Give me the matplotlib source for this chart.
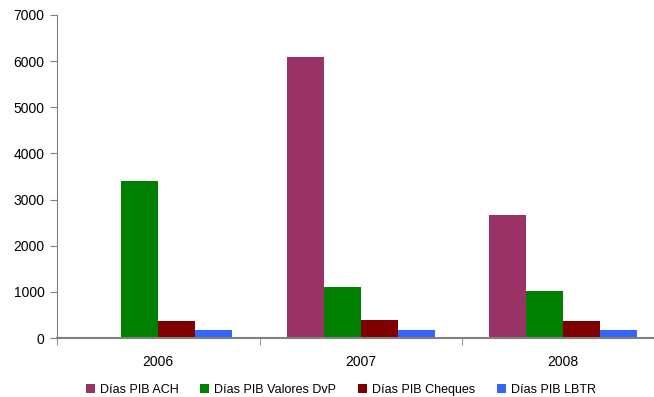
import matplotlib
matplotlib.use("Agg")
import matplotlib.pyplot as plt
import numpy as np

plt.rcParams['font.family'] = ['Liberation Sans', 'DejaVu Sans']

years = ["2006", "2007", "2008"]
series_names = ["Días PIB ACH", "Días PIB Valores DvP", "Días PIB Cheques", "Días PIB LBTR"]
ach = [0, 6090, 2665]
dvp = [3400, 1105, 1020]
cheques = [370, 390, 370]
lbtr = [175, 175, 175]
colors = ["#993366", "#008000", "#800000", "#3366FF"]

fig = plt.figure(figsize=(6.54, 3.97), dpi=100)
ax = fig.add_axes([57 / 654, 59 / 397, 607.5 / 654, 323 / 397])

x = np.arange(len(years))
width = 0.183
all_series = [ach, dvp, cheques, lbtr]
for i, (vals, name, col) in enumerate(zip(all_series, series_names, colors)):
    ax.bar(x + (i - 1.5) * width, vals, width, color=col, label=name, linewidth=0)

ax.set_xlim(-0.5, len(years) - 0.5)
ax.set_ylim(0, 7000)
ax.set_yticks(np.arange(0, 7001, 1000))

ax.set_xticks(x)
ax.set_xticklabels(years)
ax.set_xticks(np.arange(-0.5, len(years)), minor=True)
ax.tick_params(axis='x', which='major', length=0, pad=12, labelsize=10)
ax.tick_params(axis='x', which='minor', length=5, direction='out', color='#808080')
ax.tick_params(axis='y', length=5, direction='out', color='#808080', pad=4, labelsize=10)

for s in ['top', 'right']:
    ax.spines[s].set_visible(False)
ax.spines['left'].set_color('#808080')
ax.spines['bottom'].set_color('#808080')
ax.spines['bottom'].set_linewidth(1.5)

fig.legend(loc='center', bbox_to_anchor=(341 / 654, 1 - 390 / 397), bbox_transform=fig.transFigure,
           ncol=4, frameon=False, fontsize=9, handlelength=0.72, handleheight=0.72,
           handletextpad=0.4, columnspacing=1.75, borderpad=0, borderaxespad=0)

fig.savefig("out.png", dpi=100)
